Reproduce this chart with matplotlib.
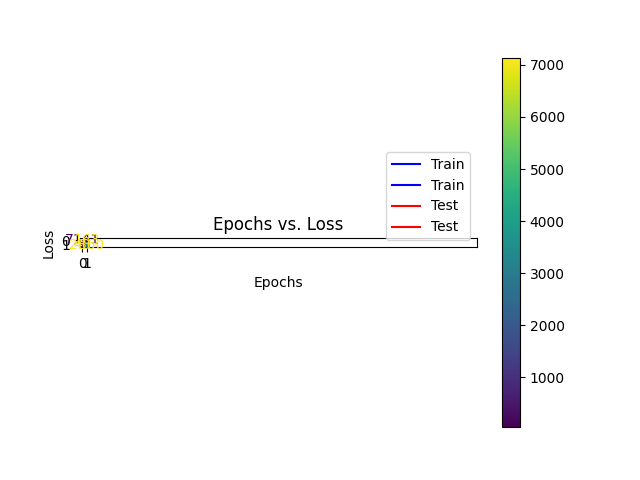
import numpy as np
import matplotlib
matplotlib.use("Agg")
import matplotlib.pyplot as plt

# confusion matrix counts (rows: true, cols: predicted)
cm_values = np.array([[7141, 163],
                      [40, 2860]])
class_ticks = [0, 1]

# loss curves (two runs each)
epochs = [1, 2, 3, 4, 5, 6, 7, 8, 9, 10]
train_loss_a = [2.91, 2.72, 2.58, 2.50, 2.45, 2.41, 2.38, 2.36, 2.34, 2.33]
train_loss_b = [2.89, 2.70, 2.57, 2.49, 2.44, 2.40, 2.37, 2.35, 2.33, 2.32]
test_loss_a = [2.80, 2.65, 2.55, 2.49, 2.46, 2.43, 2.41, 2.40, 2.39, 2.39]
test_loss_b = [2.79, 2.64, 2.54, 2.48, 2.45, 2.42, 2.40, 2.39, 2.38, 2.38]

fig = plt.figure(figsize=(6.4, 4.8), dpi=100)
ax = plt.gca()
im = ax.imshow(cm_values, cmap="viridis")
plt.colorbar(im)

thresh = cm_values.max() / 2
cmap = plt.cm.viridis
for i in range(cm_values.shape[0]):
    for j in range(cm_values.shape[1]):
        col = cmap(0.0) if cm_values[i, j] > thresh else cmap(1.0)
        ax.text(j, i, str(cm_values[i, j]), ha="center", va="center", color=col)

ax.set_xticks(class_ticks)
ax.set_yticks(class_ticks)

ax.plot(epochs, train_loss_a, color="blue", label="Train")
ax.plot(epochs, train_loss_b, color="blue", label="Train")
ax.plot(epochs, test_loss_a, color="red", label="Test")
ax.plot(epochs, test_loss_b, color="red", label="Test")

ax.set_xlim(-0.5, 87.5)
ax.set_ylim(1.5, -0.5)
ax.set_aspect("equal")

plt.title("Epochs vs. Loss")
plt.xlabel("Epochs")
plt.ylabel("Loss")
plt.legend(loc="lower right")
plt.savefig("out.png", dpi=100)
